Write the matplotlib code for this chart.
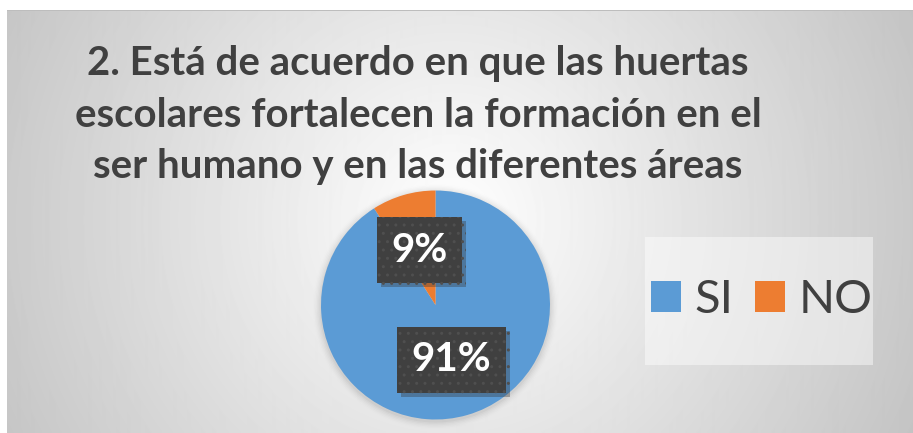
import numpy as np
import matplotlib
matplotlib.use("Agg")
import matplotlib.pyplot as plt
from matplotlib.patches import Rectangle, Circle
import matplotlib.patheffects as pe

# ---- data ----
labels = ["SI", "NO"]
values = [91, 9]
colors = ["#5B9BD5", "#ED7D31"]
title_lines = [
    "2. Está de acuerdo en que las huertas",
    "escolares fortalecen la formación en el",
    "ser humano y en las diferentes áreas",
]

W, H = 913, 433
fig = plt.figure(figsize=(W / 100, H / 100), dpi=100)
fig.patch.set_facecolor("white")
FONT = "Lato"

# ---- background radial gradient ----
bg = fig.add_axes([7 / W, 0, (W - 7) / W, (H - 10) / H])
yy, xx = np.mgrid[10:H, 7:W]
rr = np.hypot(xx - 450, (yy - 220) * 1.0)
img = 255 - 58 * np.clip(rr / 497, 0, 1.15)
bg.imshow(img, cmap="gray", vmin=0, vmax=255, aspect="auto", interpolation="bilinear")
bg.set_axis_off()
fig.add_artist(Rectangle((7 / W, (H - 11) / H), (W - 7) / W, 1.2 / H,
                         transform=fig.transFigure, fc="#bdbdbd", ec="none"))

# ---- title ----
renderer = fig.canvas.get_renderer()
baselines = [75, 127, 178]
fs = 24
probe = fig.text(0, 0, title_lines[1], fontsize=fs, fontweight="bold", family=FONT)
wpx = probe.get_window_extent(renderer).width
probe.remove()
fs = fs * 685 / wpx
for line, b in zip(title_lines, baselines):
    fig.text(418 / W, (H - b) / H, line, ha="center", va="baseline",
             fontsize=fs, fontweight="bold", color="#404040", family=FONT)

# ---- pie ----
cx, cy, R = 435.5, 305, 114.5
ax = fig.add_axes([(cx - R) / W, (H - cy - R) / H, 2 * R / W, 2 * R / H])
for k, a in enumerate(np.linspace(0.06, 0.01, 6)):
    ax.add_patch(Circle((0.0, -0.015), 1.0 + 0.012 * (k + 1), fc="black",
                        alpha=a * 0.5, ec="none", zorder=0))
wedges, texts, autotexts = ax.pie(
    values, colors=colors, startangle=90, counterclock=False, radius=1,
    autopct=lambda p: f"{p:.0f}%", pctdistance=0.5,
    wedgeprops=dict(linewidth=0),
    textprops=dict(color="white", fontsize=29, fontweight="bold", family=FONT),
)
for t in autotexts:
    t.set_bbox(dict(boxstyle="square,pad=0.36", fc="#404040", ec="#4f4f4f",
                    lw=0, hatch=".."))
    t.get_bbox_patch().set_path_effects(
        [pe.SimplePatchShadow(offset=(3, -3), alpha=0.35, shadow_rgbFace="#333333"), pe.Normal()])
ax.set_xlim(-1.1, 1.1)
ax.set_ylim(-1.1, 1.1)
ax.set_position([(cx - 1.1 * R) / W, (H - cy - 1.1 * R) / H, 2.2 * R / W, 2.2 * R / H])
ax.set_axis_off()

# ---- legend ----
fig.add_artist(Rectangle((645 / W, (H - 365) / H), 228 / W, 128 / H,
                         transform=fig.transFigure, fc="white", alpha=0.45, ec="none"))
leg = fig.legend(wedges, labels, loc="center", bbox_to_anchor=(762 / W, (H - 300) / H),
                 ncol=2, frameon=False, prop=dict(family=FONT, size=34),
                 handlelength=0.63, handleheight=0.63, handletextpad=0.3,
                 columnspacing=0.45, labelcolor="#404040")

fig.savefig("out.png", dpi=100)
